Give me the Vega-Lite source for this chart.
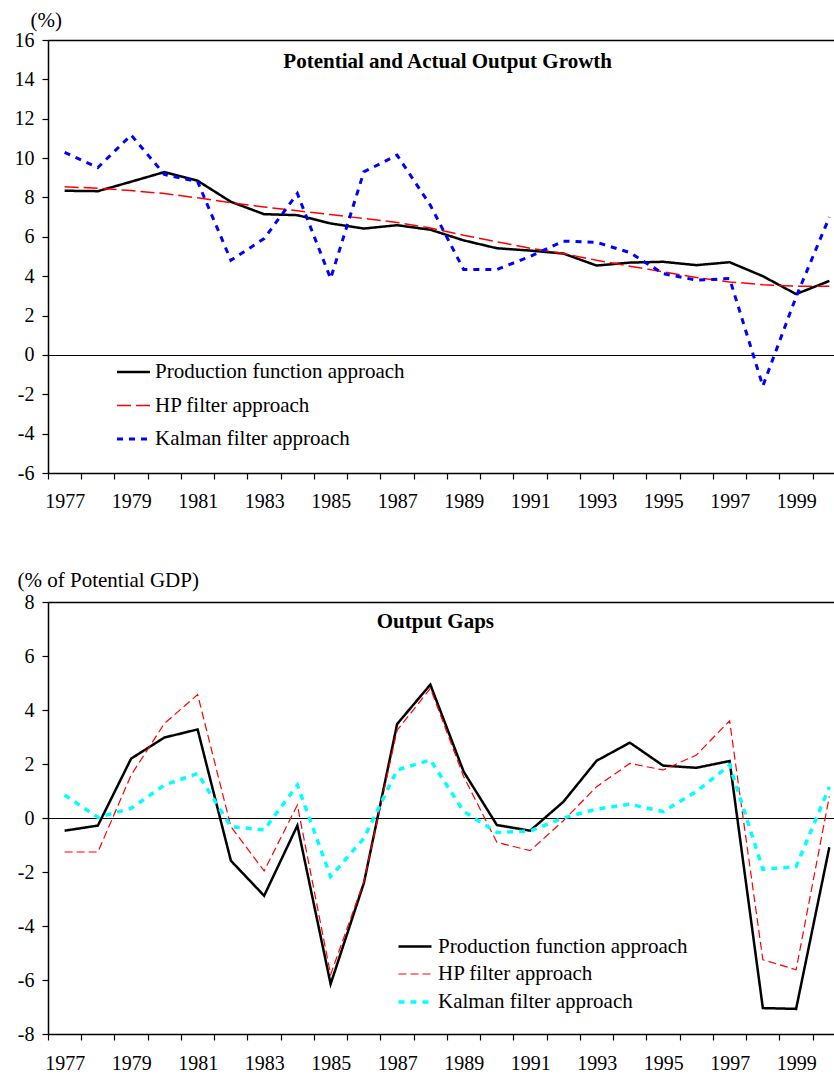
{
  "$schema": "https://vega.github.io/schema/vega-lite/v6.json",
  "padding": {"left": 14, "top": 9, "right": 0, "bottom": 0},
  "autosize": {"type": "pad"},
  "background": "white",
  "config": {
    "font": "Liberation Serif",
    "view": {"stroke": null},
    "axis": {"domainColor": "#000", "domainWidth": 1.5, "tickColor": "#000", "tickWidth": 1.2, "tickSize": 6, "labelColor": "#000", "labelFont": "Liberation Serif", "titleFont": "Liberation Serif", "titleColor": "#000", "titleFontWeight": "normal", "grid": false, "labelFlush": false, "labelOverlap": false, "labelBound": false},
    "legend": {"title": null, "padding": 0, "labelFont": "Liberation Serif", "labelFontSize": 21, "labelColor": "#000", "labelLimit": 500, "symbolType": "M-1.18,0H1.18", "symbolSize": 784, "symbolFillColor": "transparent"}
  },
  "datasets": {
    "growth": [
      {"year": 1977, "method": "Production function approach", "value": 8.34},
      {"year": 1978, "method": "Production function approach", "value": 8.32},
      {"year": 1979, "method": "Production function approach", "value": 8.8},
      {"year": 1980, "method": "Production function approach", "value": 9.29},
      {"year": 1981, "method": "Production function approach", "value": 8.85},
      {"year": 1982, "method": "Production function approach", "value": 7.78},
      {"year": 1983, "method": "Production function approach", "value": 7.15},
      {"year": 1984, "method": "Production function approach", "value": 7.1},
      {"year": 1985, "method": "Production function approach", "value": 6.68},
      {"year": 1986, "method": "Production function approach", "value": 6.42},
      {"year": 1987, "method": "Production function approach", "value": 6.59},
      {"year": 1988, "method": "Production function approach", "value": 6.36},
      {"year": 1989, "method": "Production function approach", "value": 5.82},
      {"year": 1990, "method": "Production function approach", "value": 5.42},
      {"year": 1991, "method": "Production function approach", "value": 5.3},
      {"year": 1992, "method": "Production function approach", "value": 5.15},
      {"year": 1993, "method": "Production function approach", "value": 4.54},
      {"year": 1994, "method": "Production function approach", "value": 4.69},
      {"year": 1995, "method": "Production function approach", "value": 4.73},
      {"year": 1996, "method": "Production function approach", "value": 4.56},
      {"year": 1997, "method": "Production function approach", "value": 4.71},
      {"year": 1998, "method": "Production function approach", "value": 4.0},
      {"year": 1999, "method": "Production function approach", "value": 3.09},
      {"year": 2000, "method": "Production function approach", "value": 3.76},
      {"year": 1977, "method": "HP filter approach", "value": 8.54},
      {"year": 1978, "method": "HP filter approach", "value": 8.47},
      {"year": 1979, "method": "HP filter approach", "value": 8.35},
      {"year": 1980, "method": "HP filter approach", "value": 8.2},
      {"year": 1981, "method": "HP filter approach", "value": 7.98},
      {"year": 1982, "method": "HP filter approach", "value": 7.73},
      {"year": 1983, "method": "HP filter approach", "value": 7.52},
      {"year": 1984, "method": "HP filter approach", "value": 7.32},
      {"year": 1985, "method": "HP filter approach", "value": 7.13},
      {"year": 1986, "method": "HP filter approach", "value": 6.93},
      {"year": 1987, "method": "HP filter approach", "value": 6.73},
      {"year": 1988, "method": "HP filter approach", "value": 6.45},
      {"year": 1989, "method": "HP filter approach", "value": 6.08},
      {"year": 1990, "method": "HP filter approach", "value": 5.75},
      {"year": 1991, "method": "HP filter approach", "value": 5.42},
      {"year": 1992, "method": "HP filter approach", "value": 5.15},
      {"year": 1993, "method": "HP filter approach", "value": 4.81},
      {"year": 1994, "method": "HP filter approach", "value": 4.51},
      {"year": 1995, "method": "HP filter approach", "value": 4.22},
      {"year": 1996, "method": "HP filter approach", "value": 3.93},
      {"year": 1997, "method": "HP filter approach", "value": 3.71},
      {"year": 1998, "method": "HP filter approach", "value": 3.57},
      {"year": 1999, "method": "HP filter approach", "value": 3.49},
      {"year": 2000, "method": "HP filter approach", "value": 3.49},
      {"year": 1977, "method": "Kalman filter approach", "value": 10.29},
      {"year": 1978, "method": "Kalman filter approach", "value": 9.52},
      {"year": 1979, "method": "Kalman filter approach", "value": 11.17},
      {"year": 1980, "method": "Kalman filter approach", "value": 9.17},
      {"year": 1981, "method": "Kalman filter approach", "value": 8.8},
      {"year": 1982, "method": "Kalman filter approach", "value": 4.81},
      {"year": 1983, "method": "Kalman filter approach", "value": 5.91},
      {"year": 1984, "method": "Kalman filter approach", "value": 8.2},
      {"year": 1985, "method": "Kalman filter approach", "value": 3.88},
      {"year": 1986, "method": "Kalman filter approach", "value": 9.3},
      {"year": 1987, "method": "Kalman filter approach", "value": 10.15},
      {"year": 1988, "method": "Kalman filter approach", "value": 7.6},
      {"year": 1989, "method": "Kalman filter approach", "value": 4.34},
      {"year": 1990, "method": "Kalman filter approach", "value": 4.34},
      {"year": 1991, "method": "Kalman filter approach", "value": 5.0},
      {"year": 1992, "method": "Kalman filter approach", "value": 5.78},
      {"year": 1993, "method": "Kalman filter approach", "value": 5.72},
      {"year": 1994, "method": "Kalman filter approach", "value": 5.2},
      {"year": 1995, "method": "Kalman filter approach", "value": 4.13},
      {"year": 1996, "method": "Kalman filter approach", "value": 3.8},
      {"year": 1997, "method": "Kalman filter approach", "value": 3.88},
      {"year": 1998, "method": "Kalman filter approach", "value": -1.58},
      {"year": 1999, "method": "Kalman filter approach", "value": 2.95},
      {"year": 2000, "method": "Kalman filter approach", "value": 7.0}
    ],
    "gaps": [
      {"year": 1977, "method": "Production function approach", "value": -0.47},
      {"year": 1978, "method": "Production function approach", "value": -0.28},
      {"year": 1979, "method": "Production function approach", "value": 2.2},
      {"year": 1980, "method": "Production function approach", "value": 2.98},
      {"year": 1981, "method": "Production function approach", "value": 3.28},
      {"year": 1982, "method": "Production function approach", "value": -1.58},
      {"year": 1983, "method": "Production function approach", "value": -2.88},
      {"year": 1984, "method": "Production function approach", "value": -0.28},
      {"year": 1985, "method": "Production function approach", "value": -6.15},
      {"year": 1986, "method": "Production function approach", "value": -2.41},
      {"year": 1987, "method": "Production function approach", "value": 3.48},
      {"year": 1988, "method": "Production function approach", "value": 4.94},
      {"year": 1989, "method": "Production function approach", "value": 1.72},
      {"year": 1990, "method": "Production function approach", "value": -0.26},
      {"year": 1991, "method": "Production function approach", "value": -0.47},
      {"year": 1992, "method": "Production function approach", "value": 0.6},
      {"year": 1993, "method": "Production function approach", "value": 2.12},
      {"year": 1994, "method": "Production function approach", "value": 2.79},
      {"year": 1995, "method": "Production function approach", "value": 1.94},
      {"year": 1996, "method": "Production function approach", "value": 1.86},
      {"year": 1997, "method": "Production function approach", "value": 2.11},
      {"year": 1998, "method": "Production function approach", "value": -7.04},
      {"year": 1999, "method": "Production function approach", "value": -7.07},
      {"year": 2000, "method": "Production function approach", "value": -1.08},
      {"year": 1977, "method": "HP filter approach", "value": -1.26},
      {"year": 1978, "method": "HP filter approach", "value": -1.26},
      {"year": 1979, "method": "HP filter approach", "value": 1.59},
      {"year": 1980, "method": "HP filter approach", "value": 3.5},
      {"year": 1981, "method": "HP filter approach", "value": 4.57},
      {"year": 1982, "method": "HP filter approach", "value": -0.32},
      {"year": 1983, "method": "HP filter approach", "value": -1.96},
      {"year": 1984, "method": "HP filter approach", "value": 0.48},
      {"year": 1985, "method": "HP filter approach", "value": -5.8},
      {"year": 1986, "method": "HP filter approach", "value": -2.35},
      {"year": 1987, "method": "HP filter approach", "value": 3.25},
      {"year": 1988, "method": "HP filter approach", "value": 4.8},
      {"year": 1989, "method": "HP filter approach", "value": 1.54},
      {"year": 1990, "method": "HP filter approach", "value": -0.9},
      {"year": 1991, "method": "HP filter approach", "value": -1.21},
      {"year": 1992, "method": "HP filter approach", "value": -0.1},
      {"year": 1993, "method": "HP filter approach", "value": 1.16},
      {"year": 1994, "method": "HP filter approach", "value": 2.02},
      {"year": 1995, "method": "HP filter approach", "value": 1.78},
      {"year": 1996, "method": "HP filter approach", "value": 2.33},
      {"year": 1997, "method": "HP filter approach", "value": 3.6},
      {"year": 1998, "method": "HP filter approach", "value": -5.25},
      {"year": 1999, "method": "HP filter approach", "value": -5.62},
      {"year": 2000, "method": "HP filter approach", "value": 0.8},
      {"year": 1977, "method": "Kalman filter approach", "value": 0.85},
      {"year": 1978, "method": "Kalman filter approach", "value": 0.02},
      {"year": 1979, "method": "Kalman filter approach", "value": 0.36},
      {"year": 1980, "method": "Kalman filter approach", "value": 1.22},
      {"year": 1981, "method": "Kalman filter approach", "value": 1.65},
      {"year": 1982, "method": "Kalman filter approach", "value": -0.32},
      {"year": 1983, "method": "Kalman filter approach", "value": -0.44},
      {"year": 1984, "method": "Kalman filter approach", "value": 1.22},
      {"year": 1985, "method": "Kalman filter approach", "value": -2.17},
      {"year": 1986, "method": "Kalman filter approach", "value": -0.75},
      {"year": 1987, "method": "Kalman filter approach", "value": 1.78},
      {"year": 1988, "method": "Kalman filter approach", "value": 2.15},
      {"year": 1989, "method": "Kalman filter approach", "value": 0.25},
      {"year": 1990, "method": "Kalman filter approach", "value": -0.54},
      {"year": 1991, "method": "Kalman filter approach", "value": -0.48},
      {"year": 1992, "method": "Kalman filter approach", "value": 0.0},
      {"year": 1993, "method": "Kalman filter approach", "value": 0.33},
      {"year": 1994, "method": "Kalman filter approach", "value": 0.51},
      {"year": 1995, "method": "Kalman filter approach", "value": 0.24},
      {"year": 1996, "method": "Kalman filter approach", "value": 0.98},
      {"year": 1997, "method": "Kalman filter approach", "value": 1.96},
      {"year": 1998, "method": "Kalman filter approach", "value": -1.9},
      {"year": 1999, "method": "Kalman filter approach", "value": -1.8},
      {"year": 2000, "method": "Kalman filter approach", "value": 1.15}
    ]
  },
  "spacing": 57,
  "resolve": {"scale": {"x": "independent", "y": "independent", "color": "independent", "strokeDash": "independent", "strokeWidth": "independent"}},
  "vconcat": [
    {
      "width": 789,
      "height": 433,
      "layer": [
        {
          "data": {"name": "growth"},
          "mark": {"type": "line", "clip": true},
          "encoding": {
            "x": {"field": "year", "type": "quantitative", "scale": {"domain": [1976.5, 2000.23], "nice": false, "zero": false},
              "axis": {"title": null, "values": [1976.5, 1977.5, 1978.5, 1979.5, 1980.5, 1981.5, 1982.5, 1983.5, 1984.5, 1985.5, 1986.5, 1987.5, 1988.5, 1989.5, 1990.5, 1991.5, 1992.5, 1993.5, 1994.5, 1995.5, 1996.5, 1997.5, 1998.5, 1999.5],
                "labelExpr": "(datum.value - 0.5) % 2 == 1 ? '' + (datum.value - 0.5) : ''", "labelOffset": -16.6, "labelFont": "Liberation Serif", "labelFontSize": 20, "labelPadding": 12.5, "labelOverlap": false, "labelFlush": false}},
            "y": {"field": "value", "type": "quantitative", "scale": {"domain": [-6, 16], "nice": false, "zero": false},
              "axis": {"values": [-6, -4, -2, 0, 2, 4, 6, 8, 10, 12, 14, 16], "labelExpr": "'' + datum.value", "title": "(%)", "titleFont": "Liberation Serif", "titleAngle": 0, "titleAlign": "left", "titleBaseline": "alphabetic", "titleX": -18, "titleY": -14, "titleFontSize": 21, "labelFont": "Liberation Serif", "labelFontSize": 20, "labelPadding": 8, "labelOverlap": false, "labelFlush": false,
                "grid": true, "gridColor": {"condition": {"test": "datum.value === 0 || datum.value === 16", "value": "#000000"}, "value": "transparent"}, "gridWidth": {"condition": {"test": "datum.value === 16", "value": 1.5}, "value": 1.2}}},
            "color": {"field": "method", "type": "nominal", "scale": {"domain": ["Production function approach", "HP filter approach", "Kalman filter approach"], "range": ["#000000", "#ff0000", "#0000ff"]},
              "legend": {"orient": "none", "legendX": 70, "legendY": 316.5, "rowPadding": 8, "labelOffset": 6}},
            "strokeDash": {"field": "method", "type": "nominal", "scale": {"domain": ["Production function approach", "HP filter approach", "Kalman filter approach"], "range": [[1, 0], [14, 5], [6, 6]]}},
            "strokeWidth": {"field": "method", "type": "nominal", "scale": {"type": "ordinal", "domain": ["Production function approach", "HP filter approach", "Kalman filter approach"], "range": [2.5, 1.5, 3]}}
          }
        },
        {"data": {"values": [{}]}, "mark": {"type": "text", "text": "Potential and Actual Output Growth", "font": "Liberation Serif", "fontSize": 21, "fontWeight": "bold", "color": "#000", "align": "center", "baseline": "alphabetic"},
          "encoding": {
            "x": {"datum": 1988.52, "type": "quantitative",
              "axis": {"title": null, "values": [1976.5, 1977.5, 1978.5, 1979.5, 1980.5, 1981.5, 1982.5, 1983.5, 1984.5, 1985.5, 1986.5, 1987.5, 1988.5, 1989.5, 1990.5, 1991.5, 1992.5, 1993.5, 1994.5, 1995.5, 1996.5, 1997.5, 1998.5, 1999.5],
                "labelExpr": "(datum.value - 0.5) % 2 == 1 ? '' + (datum.value - 0.5) : ''", "labelOffset": -16.6, "labelFont": "Liberation Serif", "labelFontSize": 20, "labelPadding": 12.5, "labelOverlap": false, "labelFlush": false}},
            "y": {"datum": 14.6, "type": "quantitative",
              "axis": {"values": [-6, -4, -2, 0, 2, 4, 6, 8, 10, 12, 14, 16], "labelExpr": "'' + datum.value", "title": "(%)", "titleFont": "Liberation Serif", "titleAngle": 0, "titleAlign": "left", "titleBaseline": "alphabetic", "titleX": -18, "titleY": -14, "titleFontSize": 21, "labelFont": "Liberation Serif", "labelFontSize": 20, "labelPadding": 8, "labelOverlap": false, "labelFlush": false,
                "grid": true, "gridColor": {"condition": {"test": "datum.value === 0 || datum.value === 16", "value": "#000000"}, "value": "transparent"}, "gridWidth": {"condition": {"test": "datum.value === 16", "value": 1.5}, "value": 1.2}}}
          }}
      ]
    },
    {
      "width": 789,
      "height": 432,
      "layer": [
        {
          "data": {"name": "gaps"},
          "mark": {"type": "line", "clip": true},
          "encoding": {
            "x": {"field": "year", "type": "quantitative", "scale": {"domain": [1976.5, 2000.23], "nice": false, "zero": false},
              "axis": {"title": null, "values": [1976.5, 1977.5, 1978.5, 1979.5, 1980.5, 1981.5, 1982.5, 1983.5, 1984.5, 1985.5, 1986.5, 1987.5, 1988.5, 1989.5, 1990.5, 1991.5, 1992.5, 1993.5, 1994.5, 1995.5, 1996.5, 1997.5, 1998.5, 1999.5],
                "labelExpr": "(datum.value - 0.5) % 2 == 1 ? '' + (datum.value - 0.5) : ''", "labelOffset": -16.6, "labelFont": "Liberation Serif", "labelFontSize": 20, "labelPadding": 13, "labelOverlap": false, "labelFlush": false}},
            "y": {"field": "value", "type": "quantitative", "scale": {"domain": [-8, 8], "nice": false, "zero": false},
              "axis": {"values": [-8, -6, -4, -2, 0, 2, 4, 6, 8], "labelExpr": "'' + datum.value", "title": "(% of Potential GDP)", "titleFont": "Liberation Serif", "titleAngle": 0, "titleAlign": "left", "titleBaseline": "alphabetic", "titleX": -31, "titleY": -16, "titleFontSize": 21, "labelFont": "Liberation Serif", "labelFontSize": 20, "labelPadding": 8, "labelOverlap": false, "labelFlush": false,
                "grid": true, "gridColor": {"condition": {"test": "datum.value === 0 || datum.value === 8", "value": "#000000"}, "value": "transparent"}, "gridWidth": {"condition": {"test": "datum.value === 8", "value": 1.5}, "value": 1.2}}},
            "color": {"field": "method", "type": "nominal", "scale": {"domain": ["Production function approach", "HP filter approach", "Kalman filter approach"], "range": ["#000000", "#ff0000", "#00ffff"]},
              "legend": {"orient": "none", "legendX": 351, "legendY": 329, "rowPadding": 2, "labelOffset": 7}},
            "strokeDash": {"field": "method", "type": "nominal", "scale": {"domain": ["Production function approach", "HP filter approach", "Kalman filter approach"], "range": [[1, 0], [8, 4], [6, 6]]}},
            "strokeWidth": {"field": "method", "type": "nominal", "scale": {"type": "ordinal", "domain": ["Production function approach", "HP filter approach", "Kalman filter approach"], "range": [2.5, 1.2, 3.5]}}
          }
        },
        {"data": {"values": [{}]}, "mark": {"type": "text", "text": "Output Gaps", "font": "Liberation Serif", "fontSize": 21, "fontWeight": "bold", "color": "#000", "align": "center", "baseline": "alphabetic"},
          "encoding": {
            "x": {"datum": 1988.15, "type": "quantitative",
              "axis": {"title": null, "values": [1976.5, 1977.5, 1978.5, 1979.5, 1980.5, 1981.5, 1982.5, 1983.5, 1984.5, 1985.5, 1986.5, 1987.5, 1988.5, 1989.5, 1990.5, 1991.5, 1992.5, 1993.5, 1994.5, 1995.5, 1996.5, 1997.5, 1998.5, 1999.5],
                "labelExpr": "(datum.value - 0.5) % 2 == 1 ? '' + (datum.value - 0.5) : ''", "labelOffset": -16.6, "labelFont": "Liberation Serif", "labelFontSize": 20, "labelPadding": 13, "labelOverlap": false, "labelFlush": false}},
            "y": {"datum": 7.04, "type": "quantitative",
              "axis": {"values": [-8, -6, -4, -2, 0, 2, 4, 6, 8], "labelExpr": "'' + datum.value", "title": "(% of Potential GDP)", "titleFont": "Liberation Serif", "titleAngle": 0, "titleAlign": "left", "titleBaseline": "alphabetic", "titleX": -31, "titleY": -16, "titleFontSize": 21, "labelFont": "Liberation Serif", "labelFontSize": 20, "labelPadding": 8, "labelOverlap": false, "labelFlush": false,
                "grid": true, "gridColor": {"condition": {"test": "datum.value === 0 || datum.value === 8", "value": "#000000"}, "value": "transparent"}, "gridWidth": {"condition": {"test": "datum.value === 8", "value": 1.5}, "value": 1.2}}}
          }}
      ]
    }
  ]
}
